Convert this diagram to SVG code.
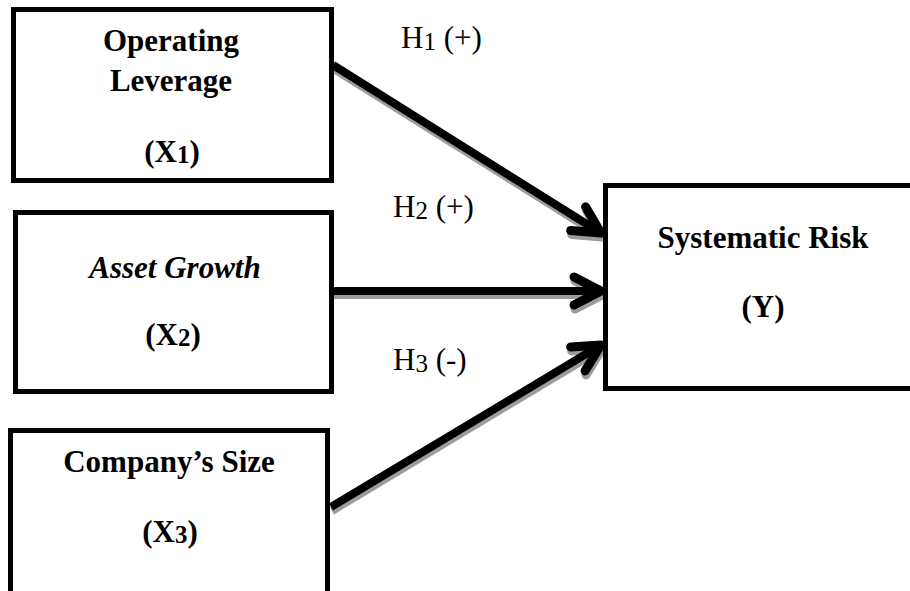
<svg xmlns="http://www.w3.org/2000/svg" width="910" height="591" viewBox="0 0 910 591">
  <style>
    .box { fill: #fff; stroke: #000; stroke-width: 5; }
    .t { font-family: "Liberation Serif", "Times New Roman", serif; font-size: 31px; font-weight: bold; fill: #000; text-anchor: middle; }
    .it { font-style: italic; }
    .h { font-family: "Liberation Serif", "Times New Roman", serif; font-size: 31px; fill: #000; }
    .sub { font-size: 25px; }
    .ln { fill: none; stroke: #000; stroke-width: 8; }
    .lns { fill: none; stroke: #9c9c9c; stroke-width: 8; }
  </style>
  <defs>
    <marker id="ah" markerUnits="userSpaceOnUse" orient="auto" overflow="visible" refX="0" refY="0" markerWidth="1" markerHeight="1">
      <path d="M-27,-14 L0,0 L-27,14" fill="none" stroke="#000" stroke-width="9" stroke-linecap="round" stroke-linejoin="round"/>
    </marker>
    <marker id="ahs" markerUnits="userSpaceOnUse" orient="auto" overflow="visible" refX="0" refY="0" markerWidth="1" markerHeight="1">
      <path d="M-27,-14 L0,0 L-27,14" fill="none" stroke="#9c9c9c" stroke-width="9" stroke-linecap="round" stroke-linejoin="round"/>
    </marker>
  </defs>
  <rect width="910" height="591" fill="#fff"/>

  <g id="connectors">
    <g id="shadows" transform="translate(1,4)">
      <line class="lns" x1="333" y1="65" x2="601" y2="233" marker-end="url(#ahs)"/>
      <line class="lns" x1="333" y1="291" x2="601" y2="291" marker-end="url(#ahs)"/>
      <line class="lns" x1="331" y1="507" x2="601" y2="345" marker-end="url(#ahs)"/>
    </g>
    <line class="ln" x1="333" y1="65" x2="601" y2="233" marker-end="url(#ah)"/>
    <line class="ln" x1="333" y1="291" x2="601" y2="291" marker-end="url(#ah)"/>
    <line class="ln" x1="331" y1="507" x2="601" y2="345" marker-end="url(#ah)"/>
    <text class="h" x="401" y="48">H<tspan class="sub" dy="2">1</tspan><tspan dy="-2"> (+)</tspan></text>
    <text class="h" x="393" y="217">H<tspan class="sub" dy="2">2</tspan><tspan dy="-2"> (+)</tspan></text>
    <text class="h" x="393" y="370">H<tspan class="sub" dy="2">3</tspan><tspan dy="-2"> (-)</tspan></text>
  </g>

  <g id="x1">
    <rect class="box" x="13.5" y="9.5" width="318" height="171"/>
    <text class="t" x="171" y="51">Operating</text>
    <text class="t" x="171" y="91">Leverage</text>
    <text class="t" x="172" y="162">(X<tspan class="sub" dy="1">1</tspan><tspan dy="-1">)</tspan></text>
  </g>

  <g id="x2">
    <rect class="box" x="15.5" y="212.5" width="316" height="179"/>
    <text class="t it" x="175" y="278">Asset Growth</text>
    <text class="t" x="173" y="345">(X<tspan class="sub" dy="1">2</tspan><tspan dy="-1">)</tspan></text>
  </g>

  <g id="x3">
    <rect class="box" x="10.5" y="430.5" width="317" height="165"/>
    <text class="t" x="169" y="472">Company’s Size</text>
    <text class="t" x="170" y="542">(X<tspan class="sub" dy="1">3</tspan><tspan dy="-1">)</tspan></text>
  </g>

  <g id="y">
    <rect class="box" x="605.5" y="185.5" width="320" height="203"/>
    <text class="t" x="763" y="248">Systematic Risk</text>
    <text class="t" x="763" y="317">(Y)</text>
  </g>
</svg>
